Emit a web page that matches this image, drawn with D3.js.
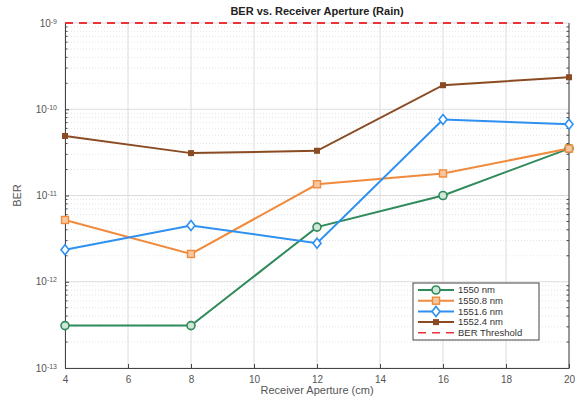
<!DOCTYPE html>
<html>
<head>
<meta charset="utf-8">
<script src="https://cdn.jsdelivr.net/npm/d3@7"></script>
<style>
  body { margin: 0; background: #fff; }
  svg { font-family: "Liberation Sans", Arial, sans-serif; }
</style>
</head>
<body>
<div id="chart"></div>
<script>
// receiver aperture (cm)
const apertures = [4, 8, 12, 16, 20];

// BER values
const ber1550 = [3.1e-13, 3.1e-13, 4.3e-12, 1.0e-11, 3.5e-11];
const ber15508 = [5.2e-12, 2.1e-12, 1.35e-11, 1.8e-11, 3.5e-11];
const ber15516 = [2.35e-12, 4.5e-12, 2.8e-12, 7.6e-11, 6.7e-11];
const ber15524 = [4.9e-11, 3.1e-11, 3.3e-11, 1.9e-10, 2.35e-10];
const berThreshold = 1e-9;

const seriesNames = ['1550 nm', '1550.8 nm', '1551.6 nm', '1552.4 nm'];
const xTicks = [4, 6, 8, 10, 12, 14, 16, 18, 20];
const yTicks = [1e-13, 1e-12, 1e-11, 1e-10, 1e-9];

const series = [
  { name: seriesNames[0], values: ber1550, color: '#2f8a5c', marker: 'circle' },
  { name: seriesNames[1], values: ber15508, color: '#f08a3c', marker: 'square' },
  { name: seriesNames[2], values: ber15516, color: '#2e90f0', marker: 'diamond' },
  { name: seriesNames[3], values: ber15524, color: '#8a4b22', marker: 'dot' }
];

const W = 578, H = 404;
const margins = { top: 23, right: 9, bottom: 36, left: 65 };
const width = W - margins.left - margins.right;
const height = H - margins.top - margins.bottom;

const svg = d3.select('#chart').append('svg')
  .attr('width', W).attr('height', H);

const g = svg.append('g')
  .attr('transform', `translate(${margins.left},${margins.top})`);

const x = d3.scaleLinear().domain([4, 20]).range([0, width]);
const y = d3.scaleLog().domain([1e-13, 1e-9]).range([height, 0]);

// minor grid (dotted) for the log axis
const minor = [];
for (let e = -13; e < -9; e++) {
  for (let k = 2; k <= 9; k++) minor.push(k * Math.pow(10, e));
}
g.append('g').selectAll('line').data(minor).enter().append('line')
  .attr('x1', 0).attr('x2', width)
  .attr('y1', d => y(d)).attr('y2', d => y(d))
  .attr('stroke', '#e4e4e4').attr('stroke-dasharray', '1,2');

// major grid
g.append('g').selectAll('line').data(yTicks).enter().append('line')
  .attr('x1', 0).attr('x2', width)
  .attr('y1', d => y(d)).attr('y2', d => y(d))
  .attr('stroke', '#dcdcdc');
g.append('g').selectAll('line').data(xTicks).enter().append('line')
  .attr('y1', 0).attr('y2', height)
  .attr('x1', d => x(d)).attr('x2', d => x(d))
  .attr('stroke', '#dcdcdc');

// axes
const xAxis = g.append('g')
  .attr('transform', `translate(0,${height})`)
  .call(d3.axisBottom(x).tickValues(xTicks).tickSize(-4).tickPadding(8).tickSizeOuter(0));
xAxis.selectAll('text').attr('font-size', 10).attr('fill', '#555');

const yAxis = g.append('g')
  .call(d3.axisLeft(y).tickValues(yTicks).tickSize(-4).tickPadding(6).tickFormat('').tickSizeOuter(0));
yAxis.selectAll('.tick').append('text')
  .attr('x', -8).attr('dy', '0.32em').attr('text-anchor', 'end')
  .attr('font-size', 10).attr('fill', '#555')
  .each(function(d) {
    const t = d3.select(this);
    t.append('tspan').text('10');
    t.append('tspan').attr('dy', '-0.45em').attr('font-size', 7).text(Math.round(Math.log10(d)));
  });

// minor ticks on left and right
[0, width].forEach(px => {
  g.append('g').selectAll('line').data(minor).enter().append('line')
    .attr('x1', px).attr('x2', px === 0 ? px + 2.5 : px - 2.5)
    .attr('y1', d => y(d)).attr('y2', d => y(d))
    .attr('stroke', '#444');
});

g.selectAll('.domain').attr('stroke', '#444');
g.selectAll('.tick line').attr('stroke', '#444');

// right border
g.append('line').attr('x1', width).attr('x2', width).attr('y1', 0).attr('y2', height)
  .attr('stroke', '#444');

// data lines
const line = d3.line().x((d, i) => x(apertures[i])).y(d => y(d));

series.forEach(s => {
  g.append('path').datum(s.values)
    .attr('d', line)
    .attr('fill', 'none').attr('stroke', s.color).attr('stroke-width', 2);
});

function drawMarker(sel, s, cx, cy) {
  if (s.marker === 'circle') {
    sel.append('circle').attr('cx', cx).attr('cy', cy).attr('r', 4)
      .attr('fill', '#cfe6d8').attr('stroke', s.color).attr('stroke-width', 1.6);
  } else if (s.marker === 'square') {
    sel.append('rect').attr('x', cx - 3.5).attr('y', cy - 3.5).attr('width', 7).attr('height', 7)
      .attr('fill', '#f6c7a0').attr('stroke', s.color).attr('stroke-width', 1.4);
  } else if (s.marker === 'diamond') {
    sel.append('path').attr('d', `M${cx},${cy - 5}L${cx + 4},${cy}L${cx},${cy + 5}L${cx - 4},${cy}Z`)
      .attr('fill', '#fff').attr('stroke', s.color).attr('stroke-width', 1.6);
  } else {
    sel.append('rect').attr('x', cx - 3).attr('y', cy - 3).attr('width', 6).attr('height', 6)
      .attr('fill', s.color);
  }
}

series.forEach(s => {
  const mg = g.append('g');
  s.values.forEach((v, i) => drawMarker(mg, s, x(apertures[i]), y(v)));
});

// threshold
g.append('line')
  .attr('x1', x(4)).attr('x2', x(20))
  .attr('y1', y(berThreshold)).attr('y2', y(berThreshold))
  .attr('stroke', '#e8343a').attr('stroke-width', 2).attr('stroke-dasharray', '8,6');

// title and labels
svg.append('text').attr('x', margins.left + width / 2).attr('y', 15)
  .attr('text-anchor', 'middle').attr('font-size', 11).attr('font-weight', 'bold').attr('fill', '#222')
  .text('BER vs. Receiver Aperture (Rain)');
svg.append('text').attr('x', margins.left + width / 2).attr('y', 394)
  .attr('text-anchor', 'middle').attr('font-size', 11).attr('fill', '#555')
  .text('Receiver Aperture (cm)');
svg.append('text')
  .attr('transform', `translate(21,${margins.top + height / 2}) rotate(-90)`)
  .attr('text-anchor', 'middle').attr('font-size', 11).attr('fill', '#555')
  .text('BER');

// legend
const lg = svg.append('g').attr('transform', 'translate(413,283)');
lg.append('rect').attr('width', 126).attr('height', 57)
  .attr('fill', '#fff').attr('stroke', '#444');
const legendItems = series.concat([{ name: 'BER Threshold', color: '#e8343a', marker: 'none' }]);
legendItems.forEach((s, i) => {
  const ly = 7 + i * 10.7;
  if (s.marker === 'none') {
    lg.append('line').attr('x1', 5).attr('x2', 41).attr('y1', ly).attr('y2', ly)
      .attr('stroke', s.color).attr('stroke-width', 1.6).attr('stroke-dasharray', '8,6');
  } else {
    lg.append('line').attr('x1', 5).attr('x2', 41).attr('y1', ly).attr('y2', ly)
      .attr('stroke', s.color).attr('stroke-width', 2);
    drawMarker(lg, s, 23, ly);
  }
  lg.append('text').attr('x', 45).attr('y', ly).attr('dy', '0.35em')
    .attr('font-size', 9.5).attr('fill', '#333').text(s.name);
});
</script>
</body>
</html>
